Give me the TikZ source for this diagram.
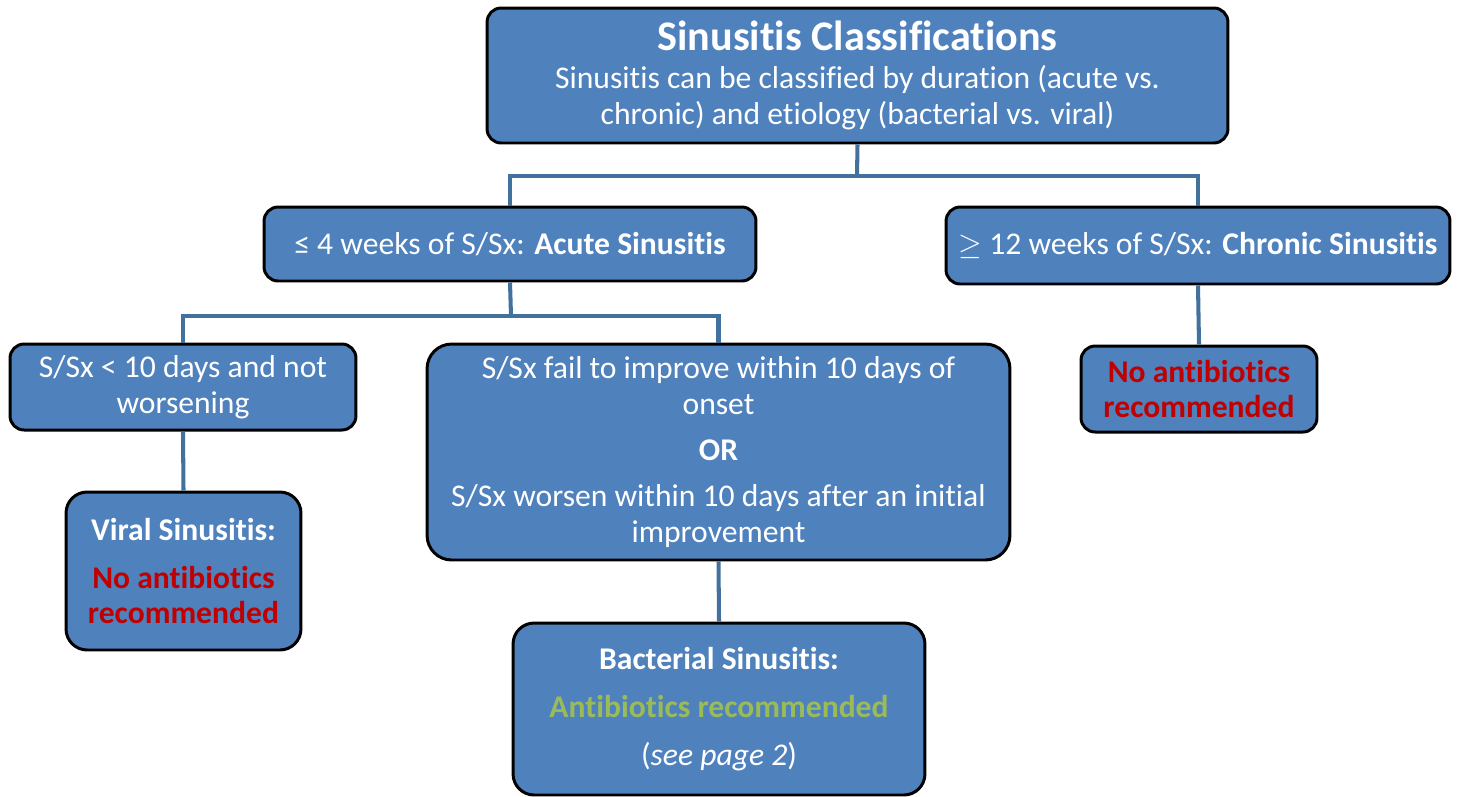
\documentclass[tikz,border=0pt]{standalone}
\usepackage{fontspec}
\setmainfont{Carlito}[Ligatures=NoCommon]
\usepackage{tikz}
\usetikzlibrary{positioning}

\definecolor{boxblue}{HTML}{4F81BD}
\definecolor{linkblue}{HTML}{41719C}
\definecolor{noabx}{HTML}{C00000}
\definecolor{yesabx}{HTML}{9BBB59}

\tikzset{
  classbox/.style={draw=black, line width=1.7pt, fill=boxblue, rounded corners=8pt,
    text=white, align=center, inner sep=2pt, font=\fontsize{18}{20.4}\selectfont},
  link/.style={draw=linkblue, line width=2.3pt}
}

\begin{document}
\begin{tikzpicture}[x=0.02cm,y=-0.02cm]
  \useasboundingbox (0,0) rectangle (1459,796);
  \node[classbox, minimum width=14.82cm, minimum height=2.7cm] (top) at (857.5,75.5)
    {{\fontsize{24}{25}\selectfont\bfseries Sinusitis Classifications}\\[1pt]
     Sinusitis can be classified by duration (acute vs.\\
     chronic) and etiology (bacterial vs. viral)};
  \node[classbox, minimum width=9.84cm, minimum height=1.48cm] (acute) at (510,244)
    {≤ 4 weeks of S/Sx: \textbf{Acute Sinusitis}};
  \node[classbox, minimum width=10.08cm, minimum height=1.54cm] (chronic) at (1198,245.5)
    {$\geq$ 12 weeks of S/Sx: \textbf{Chronic Sinusitis}};
  \node[classbox, minimum width=6.92cm, minimum height=1.72cm] (short) at (183,387)
    {S/Sx < 10 days and not\\ worsening};
  \node[classbox, minimum width=11.66cm, minimum height=4.32cm, rounded corners=14pt] (long) at (718.5,452)
    {S/Sx fail to improve within 10 days of\\ onset\\[6pt]
     \textbf{OR}\\[6pt]
     S/Sx worsen within 10 days after an initial\\ improvement};
  \node[classbox, minimum width=4.72cm, minimum height=1.72cm, text=noabx, font=\fontsize{18}{20.4}\selectfont\bfseries] (chronicabx) at (1199,389)
    {No antibiotics\\ recommended};
  \node[classbox, minimum width=4.7cm, minimum height=3.16cm, rounded corners=12pt] (viral) at (183.5,571)
    {\textbf{Viral Sinusitis:}\\[7pt]
     \textcolor{noabx}{\textbf{No antibiotics}}\\
     \textcolor{noabx}{\textbf{recommended}}};
  \node[classbox, minimum width=8.24cm, minimum height=3.44cm, rounded corners=12pt] (bacterial) at (719,709)
    {\textbf{Bacterial Sinusitis:}\\[7pt]
     \textcolor{yesabx}{\textbf{Antibiotics recommended}}\\[7pt]
     (\textit{see page 2})};

  % connectors
  \coordinate (split1) at (857,176);
  \coordinate (split2) at (511,316);
  \draw[link] (top.south) -- (split1);
  \draw[link] (split1) -| (acute.north);
  \draw[link] (split1) -| (chronic.north);
  \draw[link] (acute.south) -- (split2);
  \draw[link] (split2) -| (short.north);
  \draw[link] (split2) -| (long.north);
  \draw[link] (short.south) -- (viral.north);
  \draw[link] (long.south) -- (bacterial.north);
  \draw[link] (chronic.south) -- (chronicabx.north);
\end{tikzpicture}
\end{document}
